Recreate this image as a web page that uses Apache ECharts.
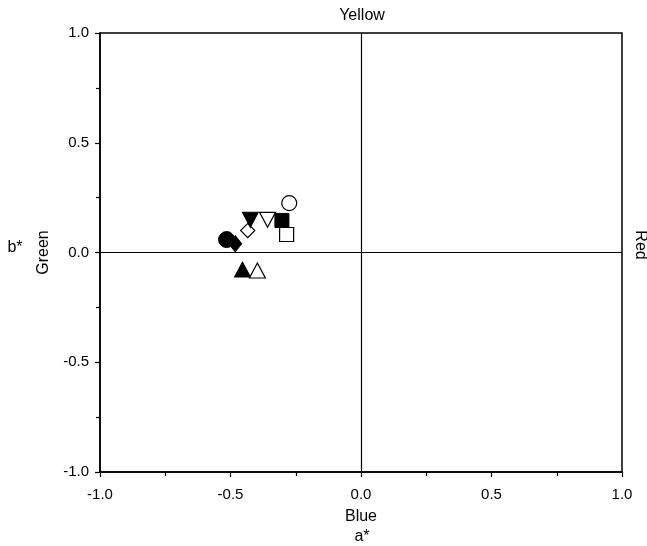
<!DOCTYPE html>
<html><head><meta charset="utf-8">
<script src="https://cdn.jsdelivr.net/npm/echarts@6/dist/echarts.min.js"></script>
<style>html,body{margin:0;padding:0;background:#fff}#c{width:647px;height:546px}</style>
</head><body><div id="c"></div>
<script>
// a* values and b* values for each sample marker
const filledCircle = [[-0.515, 0.059]];
const filledDiamond = [[-0.482, 0.040]];
const openDiamond = [[-0.434, 0.100]];
const filledDownTri = [[-0.424, 0.149]];
const openDownTri = [[-0.358, 0.149]];
const filledSquare = [[-0.303, 0.146]];
const openCircle = [[-0.275, 0.225]];
const openSquare = [[-0.285, 0.082]];
const filledUpTri = [[-0.454, -0.078]];
const openUpTri = [[-0.397, -0.082]];
const axisTicks = [-1, -0.5, 0, 0.5, 1];

const chart = echarts.init(document.getElementById('c'), null, {renderer: 'canvas'});
const font = 'Liberation Sans, Arial, sans-serif';
function ser(data, symbol, filled, size, rot) {
  return {
    type: 'scatter', data: data, symbol: symbol, symbolSize: size, symbolRotate: rot || 0,
    itemStyle: filled ? {color: '#000', borderColor: '#000', borderWidth: 1, opacity: 1}
                      : {color: '#fff', borderColor: '#000', borderWidth: 1.2, opacity: 1},
    z: 5
  };
}
const downTri = 'path://M0,0 L10,0 L5,9 Z';
const upTri = 'path://M5,0 L10,9 L0,9 Z';
const axisCommon = {
  min: axisTicks[0], max: axisTicks[axisTicks.length - 1], interval: 0.5,
  axisLine: {show: true, onZero: false, lineStyle: {color: '#000', width: 1.5}},
  axisTick: {show: true, inside: false, length: 5, lineStyle: {color: '#000', width: 1.2}},
  minorTick: {show: true, splitNumber: 2, length: 4, lineStyle: {color: '#000', width: 1.2}},
  splitLine: {show: false},
  axisLabel: {color: '#000', fontSize: 15, fontFamily: font, formatter: v => v.toFixed(1)}
};
chart.setOption({
  animation: false,
  backgroundColor: '#fff',
  grid: {left: 100, right: 25, top: 33, bottom: 74, show: true, borderColor: '#000', borderWidth: 1.5, backgroundColor: 'transparent'},
  xAxis: Object.assign({}, axisCommon, {
    type: 'value', position: 'bottom',
    name: 'Blue', nameLocation: 'middle', nameGap: 37,
    nameTextStyle: {color: '#000', fontSize: 16, fontFamily: font},
    axisLabel: Object.assign({}, axisCommon.axisLabel, {margin: 15})
  }),
  yAxis: Object.assign({}, axisCommon, {
    type: 'value', position: 'left',
    name: 'Green', nameLocation: 'middle', nameGap: 48, nameRotate: 90,
    nameTextStyle: {color: '#000', fontSize: 16, fontFamily: font},
    axisLabel: Object.assign({}, axisCommon.axisLabel, {margin: 11})
  }),
  graphic: [
    {type: 'text', x: 362, y: 16, style: {text: 'Yellow', fill: '#000', font: '16px ' + font, align: 'center', verticalAlign: 'middle'}},
    {type: 'text', x: 640, y: 245, rotation: -Math.PI / 2, style: {text: 'Red', fill: '#000', font: '16px ' + font, align: 'center', verticalAlign: 'middle'}},
    {type: 'text', x: 362, y: 537, style: {text: 'a*', fill: '#000', font: '16px ' + font, align: 'center', verticalAlign: 'middle'}},
    {type: 'text', x: 15, y: 248, style: {text: 'b*', fill: '#000', font: '16px ' + font, align: 'center', verticalAlign: 'middle'}}
  ],
  series: [
    Object.assign(ser(filledCircle, 'circle', true, 16), {
      markLine: {silent: true, symbol: 'none', label: {show: false},
        lineStyle: {color: '#000', width: 1.2, type: 'solid'},
        data: [{xAxis: 0}, {yAxis: 0}]}
    }),
    ser(filledDiamond, 'diamond', true, [13, 16], 0),
    ser(openDiamond, 'rect', false, 10, 45),
    ser(filledDownTri, downTri, true, [16, 15]),
    ser(openDownTri, downTri, false, [16, 15]),
    ser(filledSquare, 'rect', true, 14),
    ser(openCircle, 'circle', false, 15),
    ser(openSquare, 'rect', false, 14),
    ser(filledUpTri, upTri, true, [16, 15]),
    ser(openUpTri, upTri, false, [16, 15])
  ]
});
</script></body></html>
